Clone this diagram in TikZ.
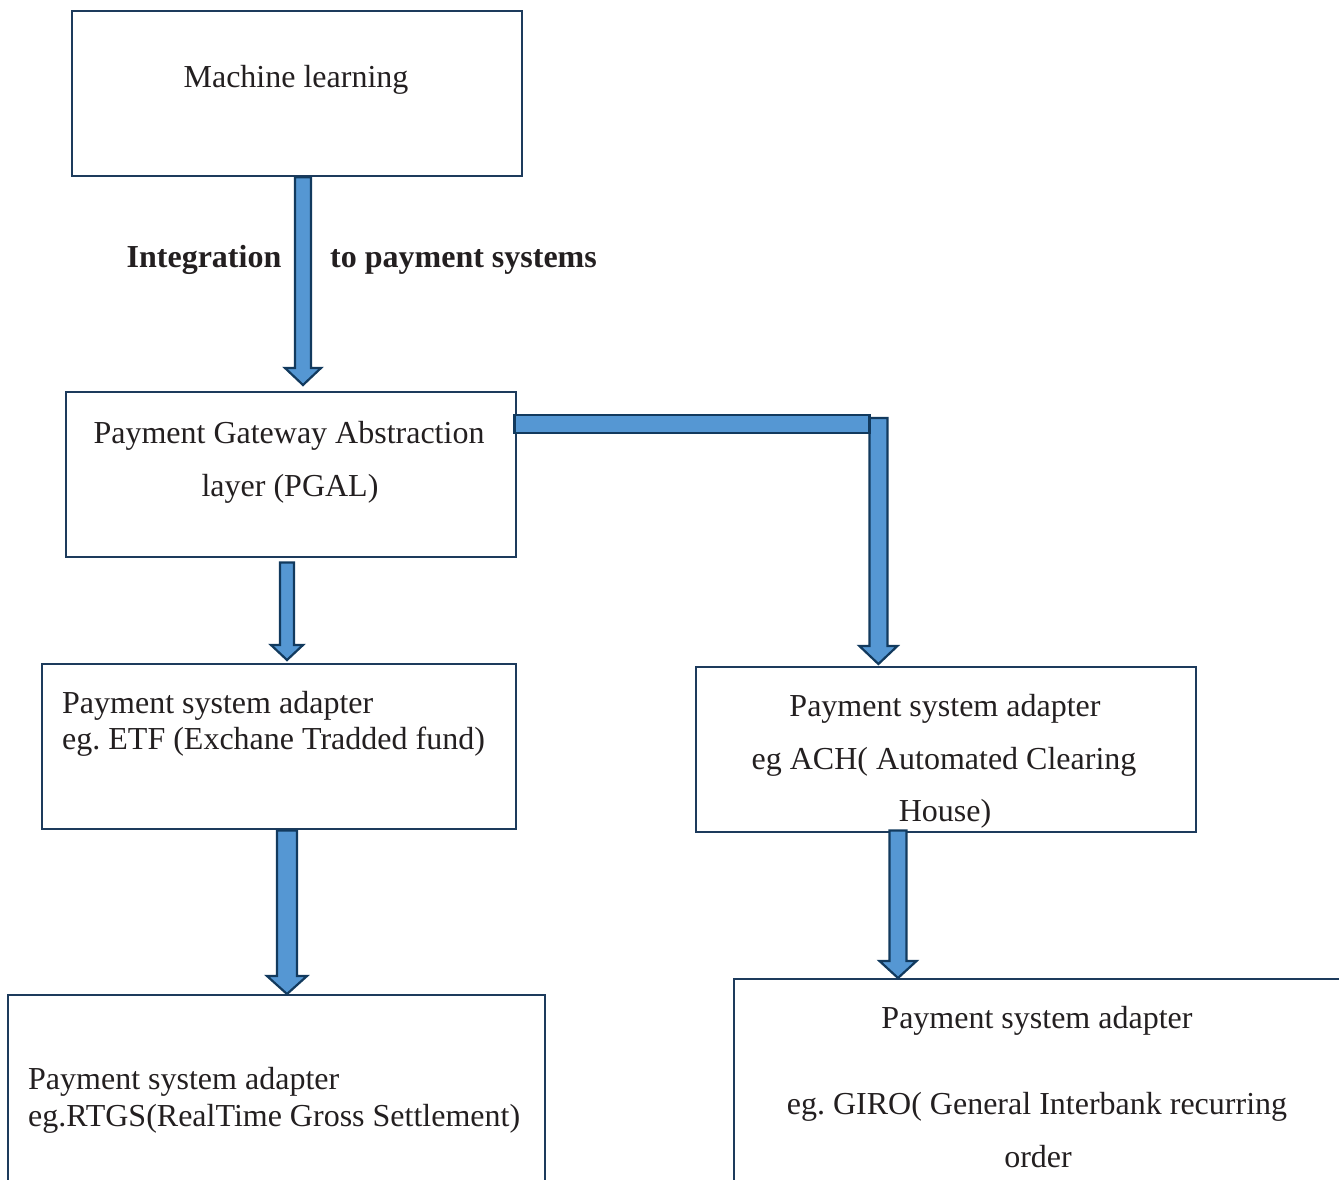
\documentclass[tikz,border=0pt]{standalone}
\usepackage{fontspec}
\setmainfont{Liberation Serif}
\usetikzlibrary{calc}
\frenchspacing

\definecolor{boxline}{HTML}{1D3B5C}
\definecolor{arrowfill}{HTML}{5597D3}
\definecolor{arrowline}{HTML}{123A5E}
\definecolor{ink}{HTML}{231F20}

\tikzset{
  box/.style={draw=boxline, line width=2.4pt, rectangle, anchor=north west, inner sep=0pt},
  lbl/.style={inner sep=0pt, text=ink, font=\fontsize{32}{38}\selectfont},
  blk/.style={fill=arrowfill, draw=arrowline, line width=2.2pt, line join=miter},
}

% Downward block arrow: #1 start point, #2 tip point (only its y is used),
% #3 shaft half width, #4 head half width, #5 head length
\newcommand{\downblock}[5]{%
  \draw[blk] let \p1=(#1), \p2=(#2) in
    (\x1-#3,\y1) -- (\x1+#3,\y1) -- (\x1+#3,\y2+#5) -- (\x1+#4,\y2+#5)
    -- (\x1,\y2) -- (\x1-#4,\y2+#5) -- (\x1-#3,\y2+#5) -- cycle;}

\begin{document}
\begin{tikzpicture}[x=1pt, y=-1pt]
  \useasboundingbox (0,0) rectangle (1339,1180);
  \clip (0,0) rectangle (1339,1180);

  % boxes
  \node[box, minimum width=450pt, minimum height=165pt] (ml)   at (71,10)  {};
  \node[box, minimum width=450pt, minimum height=165pt] (pgal) at (65,391) {};
  \node[box, minimum width=474pt, minimum height=165pt] (etf)  at (41,663) {};
  \node[box, minimum width=500pt, minimum height=165pt] (ach)  at (695,666) {};
  \node[box, minimum width=537pt, minimum height=230pt] (rtgs) at (7,994) {};
  \node[box, minimum width=640pt, minimum height=230pt] (giro) at (733,978) {};

  % texts
  \node[lbl, anchor=base] (tml) at (296,88) {Machine learning};
  \node[lbl, anchor=base, font=\fontsize{32}{38}\selectfont\bfseries] (tint) at (204,267) {Integration};
  \node[lbl, anchor=base west, font=\fontsize{32}{38}\selectfont\bfseries] (tpay) at (330,267) {to payment systems};

  \node[lbl, anchor=base] (tpg1) at (289,443) {Payment Gateway Abstraction};
  \node[lbl, anchor=base] (tpg2) at (290,496) {layer (PGAL)};

  \node[lbl, anchor=base west] (tetf1) at (62,713) {Payment system adapter};
  \node[lbl, anchor=base west] (tetf2) at (62,749) {eg. ETF (Exchane Tradded fund)};

  \node[lbl, anchor=base] (tach1) at (945,716) {Payment system adapter};
  \node[lbl, anchor=base] (tach2) at (944,769) {eg ACH( Automated Clearing};
  \node[lbl, anchor=base] (tach3) at (945,821) {House)};

  \node[lbl, anchor=base west] (trt1) at (28,1089) {Payment system adapter};
  \node[lbl, anchor=base west] (trt2) at (28,1126) {eg.RTGS(RealTime Gross Settlement)};

  \node[lbl, anchor=base] (tgi1) at (1037,1028) {Payment system adapter};
  \node[lbl, anchor=base] (tgi2) at (1037,1114) {eg. GIRO( General Interbank recurring};
  \node[lbl, anchor=base] (tgi3) at (1038,1167) {order};

  % connectors
  \downblock{$(ml.south west)+(232,0)$}{$(pgal.north)+(0,-6)$}{8pt}{18pt}{17pt}
  \downblock{$(pgal.south west)+(222,4)$}{$(etf.north)+(0,-3)$}{7pt}{16pt}{15pt}
  \downblock{$(etf.south west)+(246,0)$}{rtgs.north}{10pt}{20pt}{18pt}
  \downblock{$(ach.south west)+(203,-3)$}{giro.north}{8.5pt}{18.5pt}{17pt}

  \coordinate (bend) at ($(pgal.north east)+(361,33)$);
  \downblock{$(bend)+(0,-6)$}{$(ach.north)+(0,-2)$}{9pt}{19pt}{18pt}
  \draw[blk] ($(pgal.east |- bend)+(-3,-9)$) rectangle ($(bend)+(-9,9)$);
\end{tikzpicture}
\end{document}
